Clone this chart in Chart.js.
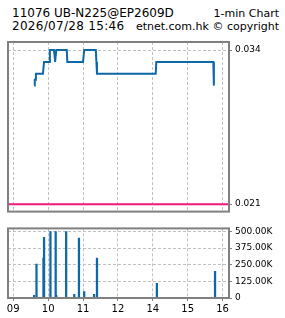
<!DOCTYPE html>
<html>
<head>
<meta charset="utf-8">
<script src="https://cdn.jsdelivr.net/npm/chart.js@4"></script>
<style>
  body { margin: 0; background: #fff; width: 285px; height: 318px; overflow: hidden; position: relative; font-family: "DejaVu Sans", sans-serif; }
  .hd { position: absolute; font-size: 12px; line-height: 12px; color: #000; white-space: pre; }
  #priceBox { position: absolute; left: 0; top: 0; width: 285px; height: 220px; }
  #volBox { position: absolute; left: 0; top: 220px; width: 285px; height: 98px; }
</style>
</head>
<body>
<div class="hd" style="left:12px;top:7px">11076 UB-N225@EP2609D</div>
<div class="hd" style="right:6px;top:8px;font-size:11px">1-min Chart</div>
<div class="hd" style="left:12px;top:20px;letter-spacing:0.3px">2026/07/28 15:46</div>
<div class="hd" style="right:6px;top:21px;font-size:11px">etnet.com.hk © copyright</div>
<div id="priceBox"><canvas id="priceChart"></canvas></div>
<div id="volBox"><canvas id="volChart"></canvas></div>

<script>
// 1-min prices
const priceTimes = ["09:36", "09:37", "09:38", "09:39", "09:51", "09:52", "09:53", "10:02", "10:03",
  "10:10", "10:11", "10:12", "10:14", "10:32", "10:33", "11:00", "11:02", "11:22", "11:23", "11:24",
  "14:05", "14:06", "15:44", "15:45"];
const priceValues = [0.031, 0.0315, 0.0315, 0.032, 0.032, 0.0325, 0.033, 0.033, 0.034,
  0.034, 0.0336, 0.033, 0.034, 0.034, 0.033, 0.033, 0.034, 0.034, 0.033, 0.032,
  0.032, 0.033, 0.033, 0.031];

// volume
const volTimes = ["09:36", "09:40", "09:52", "09:53", "10:04", "10:13", "10:14", "10:31",
  "10:45", "10:53", "11:02", "11:19", "11:24", "14:07", "15:47"];
const volValues = [20000, 255000, 300000, 455000, 500000, 500000, 20000, 500000,
  28000, 450000, 48000, 28000, 300000, 110000, 200000];

const tickTimes = ["09:00", "10:00", "11:00", "12:00", "14:00", "15:00", "16:00"];
const priceTicks = [0.021, 0.034];
const refPrice = 0.021;
const volTicks = [0, 125000, 250000, 375000, 500000];

const BLUE = "#0e67a6";
const PINK = "#ee1a7e";
const GRID = "#c0c0c0";
const FRAME = "#808080";

// minutes since 09:00, lunch hour cut out
function sessionMinute(t) {
  const [h, m] = t.split(":").map(Number);
  const mins = h * 60 + m - 540;
  return mins > 180 ? mins - 60 : mins;
}

const frame = {
  id: "frame",
  afterDraw(chart) {
    const { ctx, chartArea: a } = chart;
    ctx.save();
    ctx.strokeStyle = FRAME;
    ctx.lineWidth = 2;
    ctx.strokeRect(a.left, a.top, a.right - a.left, a.bottom - a.top);
    ctx.restore();
  }
};

const refLine = {
  id: "refLine",
  beforeDatasetsDraw(chart) {
    const { ctx, chartArea: a, scales } = chart;
    const y = scales.y.getPixelForValue(refPrice);
    ctx.save();
    ctx.strokeStyle = PINK;
    ctx.lineWidth = 2;
    ctx.beginPath();
    ctx.moveTo(a.left, y);
    ctx.lineTo(a.right, y);
    ctx.stroke();
    ctx.restore();
  }
};

function xAxis(showLabels, height) {
  return {
    type: "linear",
    min: -9,
    max: 371,
    offset: false,
    afterBuildTicks: s => { s.ticks = tickTimes.map(t => ({ value: sessionMinute(t) })); },
    afterFit: s => { s.height = height; },
    grid: { offset: false, color: GRID, borderDash: [3, 2], drawTicks: showLabels, tickLength: 3, tickColor: FRAME, tickBorderDash: [] },
    border: { display: false, dash: [3, 2] },
    ticks: {
      display: showLabels,
      padding: 2,
      color: "#000",
      font: { family: "DejaVu Sans", size: 10 },
      callback: (v, i) => tickTimes[i].slice(0, 2)
    }
  };
}

function yAxis(min, max, tickVals, fmt, hideVal) {
  return {
    position: "right",
    min, max,
    afterBuildTicks: s => { s.ticks = tickVals.map(v => ({ value: v })); },
    afterFit: s => { s.width = 56; },
    grid: {
      color: c => (c.tick && c.tick.value === hideVal ? "rgba(0,0,0,0)" : GRID),
      borderDash: [3, 2], tickLength: 3, tickColor: FRAME, tickBorderDash: []
    },
    border: { display: false, dash: [3, 2] },
    ticks: { padding: 3, color: "#000", font: { family: "DejaVu Sans", size: 9 }, callback: fmt }
  };
}

const common = {
  responsive: true,
  maintainAspectRatio: false,
  animation: false,
  plugins: { legend: { display: false }, tooltip: { enabled: false } }
};

new Chart(document.getElementById("priceChart"), {
  type: "line",
  data: {
    datasets: [{
      data: priceTimes.map((t, i) => ({ x: sessionMinute(t), y: priceValues[i] })),
      borderColor: BLUE,
      borderWidth: 2,
      pointRadius: 0,
      tension: 0
    }]
  },
  options: {
    ...common,
    layout: { padding: { top: 42, left: 8, right: 0, bottom: 4 } },
    scales: {
      x: xAxis(false, 0),
      y: yAxis(0.02037, 0.03468, priceTicks, v => v.toFixed(3), refPrice)
    }
  },
  plugins: [refLine, frame]
});

new Chart(document.getElementById("volChart"), {
  type: "bar",
  data: {
    datasets: [{
      data: volTimes.map((t, i) => ({ x: sessionMinute(t), y: volValues[i] })),
      backgroundColor: BLUE,
      barThickness: 1.6
    }]
  },
  options: {
    ...common,
    layout: { padding: { top: 2, left: 8, right: 0, bottom: 0 } },
    scales: {
      x: xAxis(true, 20),
      y: yAxis(0, 523000, volTicks, v => (v === 0 ? "0" : (v / 1000).toFixed(2) + "K"), 0)
    }
  },
  plugins: [frame]
});
</script>
</body>
</html>
